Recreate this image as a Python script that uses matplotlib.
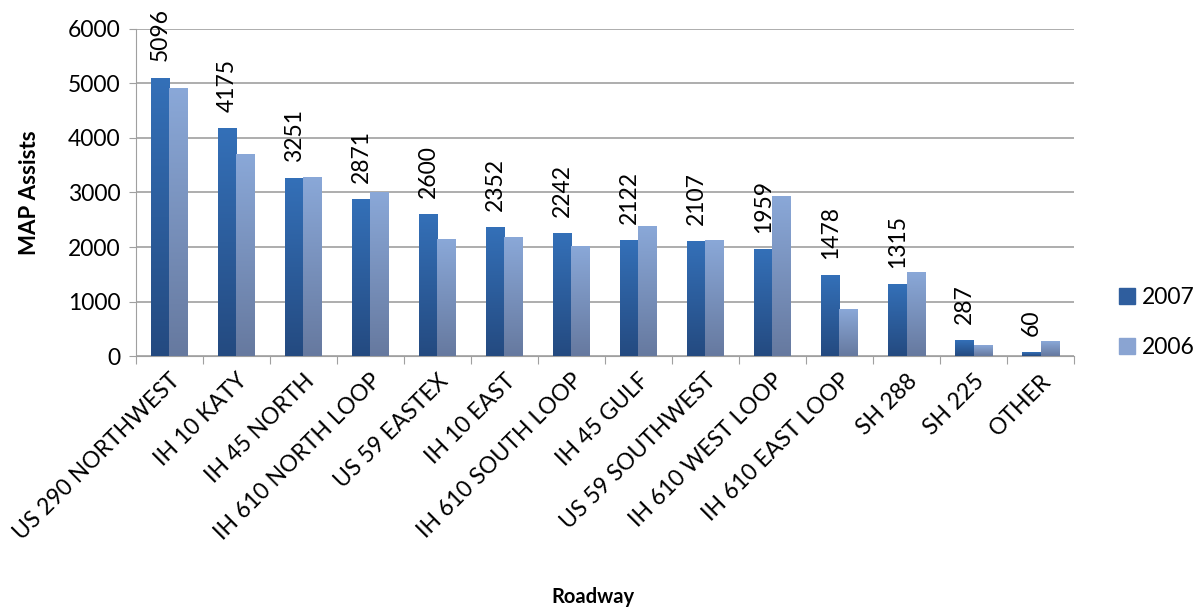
import numpy as np
import matplotlib
matplotlib.use("Agg")
import matplotlib.pyplot as plt
from matplotlib.patches import Patch
from matplotlib.colors import LinearSegmentedColormap

plt.rcParams['font.family'] = ['Lato', 'DejaVu Sans']

# roadways and assists per year
roadways = ["US 290 NORTHWEST", "IH 10 KATY", "IH 45 NORTH", "IH 610 NORTH LOOP",
            "US 59 EASTEX", "IH 10 EAST", "IH 610 SOUTH LOOP", "IH 45 GULF",
            "US 59 SOUTHWEST", "IH 610 WEST LOOP", "IH 610 EAST LOOP", "SH 288",
            "SH 225", "OTHER"]
assists_2007 = [5096, 4175, 3251, 2871, 2600, 2352, 2242, 2122, 2107, 1959, 1478, 1315, 287, 60]
assists_2006 = [4910, 3690, 3280, 3000, 2140, 2180, 2000, 2380, 2110, 2930, 860, 1535, 185, 260]
yticks = [0, 1000, 2000, 3000, 4000, 5000, 6000]

grad_2007 = LinearSegmentedColormap.from_list("g07", ["#244A80", "#3470B8"])
grad_2006 = LinearSegmentedColormap.from_list("g06", ["#66799F", "#8AA8D8"])

fig = plt.figure(figsize=(11.98, 6.14), dpi=100)
ax = fig.add_axes([0.1135, 0.42, 0.783, 0.533])

x = np.arange(len(roadways))
w = 0.275
bars07 = ax.bar(x - w / 2, assists_2007, w, color="none", zorder=3)
bars06 = ax.bar(x + w / 2, assists_2006, w, color="none", zorder=3)

grad = np.linspace(0, 1, 256).reshape(-1, 1)
for bars, cmap in ((bars07, grad_2007), (bars06, grad_2006)):
    for b in bars:
        x0, h = b.get_x(), b.get_height()
        ax.imshow(grad, cmap=cmap, origin="lower", aspect="auto", zorder=3,
                  extent=[x0, x0 + b.get_width(), 0, h])

for b, v in zip(bars07, assists_2007):
    ax.annotate(str(v), (b.get_x() + b.get_width() / 2, v), xytext=(0, 12),
                textcoords="offset points", rotation=90, ha="center", va="bottom",
                fontsize=16.5)

ax.set_xlim(-0.5, len(roadways) - 0.5)
ax.set_ylim(0, 6000)
ax.set_yticks(yticks)
ax.tick_params(axis="y", labelsize=16.5, length=5, color="#A0A0A0", pad=6)
ax.yaxis.grid(True, color="#A0A0A0", linewidth=1.2, zorder=0)
ax.set_axisbelow(True)

ax.set_xticks(np.arange(len(roadways) + 1) - 0.5)
ax.set_xticklabels([])
ax.set_xticks(x, minor=True)
ax.set_xticklabels(roadways, minor=True, rotation=45, ha="right",
                   rotation_mode="anchor", fontsize=16.5)
ax.tick_params(axis="x", which="major", length=6, color="#A0A0A0")
ax.tick_params(axis="x", which="minor", length=0, pad=10)

for s in ("top", "right"):
    ax.spines[s].set_visible(False)
for s in ("left", "bottom"):
    ax.spines[s].set_color("#A0A0A0")

ax.set_ylabel("MAP Assists", fontsize=16, fontweight="bold", labelpad=20)
fig.text(0.495, 0.018, "Roadway", fontsize=14.5, fontweight="bold", ha="center")

handles = [Patch(color="#2F5E9E", label="2007"), Patch(color="#8AA4D2", label="2006")]
fig.legend(handles=handles, loc="center left", bbox_to_anchor=(0.917, 0.475),
           frameon=False, fontsize=16.5, handlelength=0.7, handleheight=0.7,
           handletextpad=0.3, labelspacing=1.25)

fig.savefig("out.png", dpi=100)
